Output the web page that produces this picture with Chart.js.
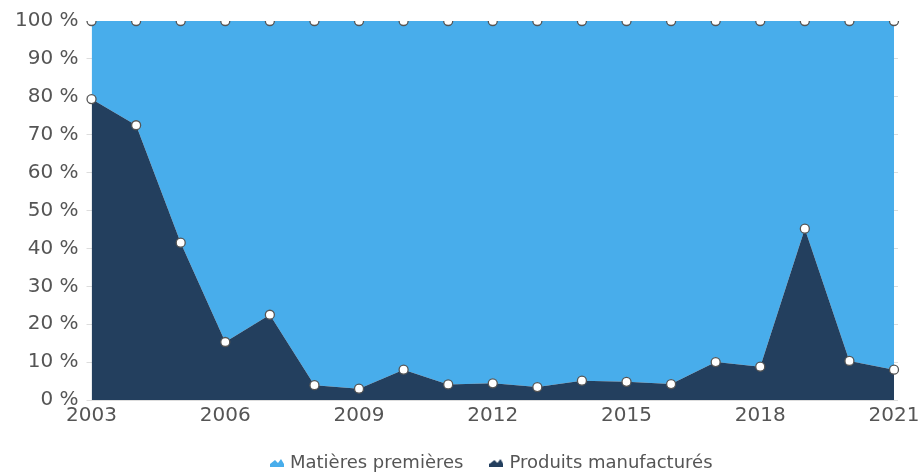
<!DOCTYPE html>
<html>
<head>
<meta charset="utf-8">
<script src="https://cdn.jsdelivr.net/npm/chart.js@4/dist/chart.umd.min.js"></script>
<style>
  html, body { margin: 0; padding: 0; background: #fff; }
  #wrap { width: 920px; height: 474px; position: relative; }
</style>
</head>
<body>
<div id="wrap"><canvas id="c"></canvas></div>
<script>
const years = ['2003','2004','2005','2006','2007','2008','2009','2010','2011','2012','2013','2014','2015','2016','2017','2018','2019','2020','2021'];
const produitsManufactures = [79.4, 72.5, 41.5, 15.3, 22.5, 3.9, 3.0, 8.0, 4.1, 4.4, 3.4, 5.1, 4.8, 4.2, 10.0, 8.8, 45.2, 10.3, 8.0];
const matieresPremieres = produitsManufactures.map(v => +(100 - v).toFixed(1));
const seriesNames = ['Matières premières', 'Produits manufacturés'];
const yTicks = [0, 10, 20, 30, 40, 50, 60, 70, 80, 90, 100];

const lightBlue = '#48ADEB';
const darkBlue = '#233F5E';
const textColor = '#555555';

function makeIcon(color) {
  const cv = document.createElement('canvas');
  cv.width = 14; cv.height = 8;
  const g = cv.getContext('2d');
  g.fillStyle = color;
  g.beginPath();
  g.moveTo(0, 8);
  g.lineTo(0, 5);
  g.lineTo(5, 1);
  g.lineTo(8, 4);
  g.lineTo(11, 0);
  g.lineTo(14, 5);
  g.lineTo(14, 8);
  g.closePath();
  g.fill();
  return cv;
}
const icons = { light: makeIcon(lightBlue), dark: makeIcon(darkBlue) };

const pointOpts = {
  pointRadius: 4.5,
  pointHoverRadius: 4.5,
  pointBackgroundColor: '#ffffff',
  pointBorderColor: '#555555',
  pointBorderWidth: 1.3
};

const legendShift = {
  id: 'legendShift',
  afterLayout(chart) {
    const lg = chart.legend;
    if (lg) {
      const ca = chart.chartArea;
      const shift = (ca.left + ca.right) / 2 - (lg.left + lg.right) / 2;
      lg.left += shift;
      lg.right += shift;
    }
  }
};

new Chart(document.getElementById('c'), {
  type: 'line',
  data: {
    labels: years,
    datasets: [
      Object.assign({
        label: seriesNames[1],
        data: produitsManufactures,
        backgroundColor: darkBlue,
        borderColor: darkBlue,
        borderWidth: 0,
        fill: 'origin',
        tension: 0
      }, pointOpts),
      Object.assign({
        label: seriesNames[0],
        data: matieresPremieres,
        backgroundColor: lightBlue,
        borderColor: lightBlue,
        borderWidth: 0,
        fill: '-1',
        tension: 0
      }, pointOpts)
    ]
  },
  plugins: [legendShift],
  options: {
    responsive: true,
    maintainAspectRatio: false,
    animation: false,
    layout: { padding: { top: 21, right: 0, left: 7, bottom: -8 } },
    scales: {
      x: {
        offset: false,
        grid: { display: false, drawTicks: false },
        border: { display: false },
        afterFit: (scale) => { scale.paddingRight = 26; scale.paddingLeft = 0; scale.height -= 7; },
        ticks: {
          autoSkip: false,
          maxRotation: 0,
          color: textColor,
          font: { family: 'DejaVu Sans', size: 20 },
          padding: 4,
          callback: function(val, idx) { return idx % 3 === 0 ? this.getLabelForValue(val) : ''; }
        }
      },
      y: {
        stacked: true,
        min: 0,
        max: 100,
        afterBuildTicks: (axis) => { axis.ticks = yTicks.map(v => ({ value: v })); },
        afterFit: (scale) => { scale.paddingTop = 0; },
        grid: { color: '#dddddd', tickLength: 5, drawOnChartArea: true },
        border: { display: false },
        ticks: {
          color: textColor,
          font: { family: 'DejaVu Sans', size: 20 },
          padding: 8,
          callback: v => v + ' %'
        }
      },
      y2: {
        position: 'right',
        min: 0,
        max: 100,
        afterBuildTicks: (axis) => { axis.ticks = yTicks.map(v => ({ value: v })); },
        afterFit: (scale) => { scale.paddingTop = 0; scale.paddingBottom = 0; },
        grid: { color: '#dddddd', tickLength: 4, drawOnChartArea: false },
        border: { display: false },
        ticks: { display: false }
      }
    },
    plugins: {
      tooltip: { enabled: false },
      legend: {
        position: 'bottom',
        reverse: true,
        labels: {
          usePointStyle: true,
          pointStyleWidth: 8,
          color: textColor,
          font: { family: 'DejaVu Sans', size: 18 },
          padding: 29,
          generateLabels: function(chart) {
            const items = Chart.defaults.plugins.legend.labels.generateLabels(chart);
            items.forEach(it => { it.pointStyle = it.datasetIndex === 0 ? icons.dark : icons.light; });
            return items;
          }
        }
      }
    }
  }
});
</script>
</body>
</html>
